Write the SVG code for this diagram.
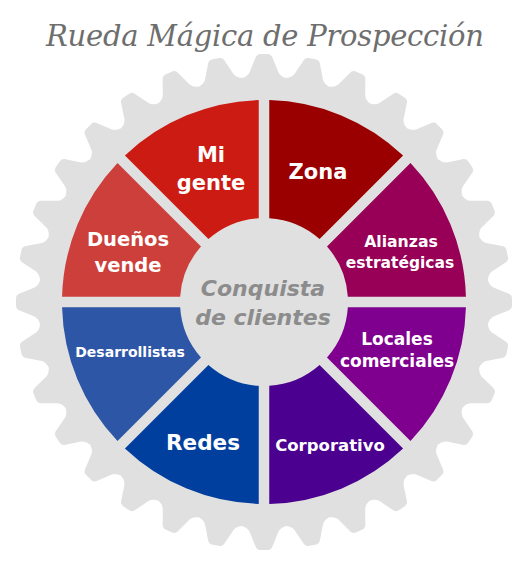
<svg xmlns="http://www.w3.org/2000/svg" xmlns:xlink="http://www.w3.org/1999/xlink" width="532" height="575" viewBox="0 0 532 575">
<style>
.gear{fill:#e0e0e0}
.lbl{font-family:"DejaVu Sans","Liberation Sans",sans-serif;font-weight:bold;fill:#ffffff;text-anchor:middle}
.hubt{font-family:"DejaVu Sans","Liberation Sans",sans-serif;font-weight:bold;font-style:italic;fill:#8c8c8c;text-anchor:middle;font-size:22px}
.title{font-family:"DejaVu Serif","Liberation Serif",serif;font-style:italic;fill:#6e6e6e;font-size:29px;text-anchor:middle}
</style>
<defs>
<path id="tooth" d="M -22.1,-219 L -22.05,-223.9 Q -16.5,-225.5 -14.5,-229.5 L -8,-245.5 Q -6.5,-248 -4,-248 L 4,-248 Q 6.5,-248 8,-245.5 L 14.5,-229.5 Q 16.5,-225.5 22.05,-223.9 L 22.1,-219 Z"/>
<path id="seg" d="M 5.25,-201.93 A 202 202 0 0 1 139.08,-146.50 L 55.57,-62.99 A 84 84 0 0 0 5.25,-83.84 Z"/>
</defs>
<rect width="532" height="575" fill="#ffffff"/>
<text class="title" x="265" y="46" textLength="438" lengthAdjust="spacing">Rueda Mágica de Prospección</text>
<g id="gear" class="gear" transform="translate(264,302)">
<circle r="224"/>
<use xlink:href="#tooth" transform="rotate(0)"/>
<use xlink:href="#tooth" transform="rotate(11.25)"/>
<use xlink:href="#tooth" transform="rotate(22.5)"/>
<use xlink:href="#tooth" transform="rotate(33.75)"/>
<use xlink:href="#tooth" transform="rotate(45)"/>
<use xlink:href="#tooth" transform="rotate(56.25)"/>
<use xlink:href="#tooth" transform="rotate(67.5)"/>
<use xlink:href="#tooth" transform="rotate(78.75)"/>
<use xlink:href="#tooth" transform="rotate(90)"/>
<use xlink:href="#tooth" transform="rotate(101.25)"/>
<use xlink:href="#tooth" transform="rotate(112.5)"/>
<use xlink:href="#tooth" transform="rotate(123.75)"/>
<use xlink:href="#tooth" transform="rotate(135)"/>
<use xlink:href="#tooth" transform="rotate(146.25)"/>
<use xlink:href="#tooth" transform="rotate(157.5)"/>
<use xlink:href="#tooth" transform="rotate(168.75)"/>
<use xlink:href="#tooth" transform="rotate(180)"/>
<use xlink:href="#tooth" transform="rotate(191.25)"/>
<use xlink:href="#tooth" transform="rotate(202.5)"/>
<use xlink:href="#tooth" transform="rotate(213.75)"/>
<use xlink:href="#tooth" transform="rotate(225)"/>
<use xlink:href="#tooth" transform="rotate(236.25)"/>
<use xlink:href="#tooth" transform="rotate(247.5)"/>
<use xlink:href="#tooth" transform="rotate(258.75)"/>
<use xlink:href="#tooth" transform="rotate(270)"/>
<use xlink:href="#tooth" transform="rotate(281.25)"/>
<use xlink:href="#tooth" transform="rotate(292.5)"/>
<use xlink:href="#tooth" transform="rotate(303.75)"/>
<use xlink:href="#tooth" transform="rotate(315)"/>
<use xlink:href="#tooth" transform="rotate(326.25)"/>
<use xlink:href="#tooth" transform="rotate(337.5)"/>
<use xlink:href="#tooth" transform="rotate(348.75)"/>
</g>
<g id="connectors"></g>
<g id="hub">
<circle class="gear" cx="264" cy="302" r="84"/>
<text class="hubt" x="263" y="296">Conquista</text>
<text class="hubt" x="263" y="325">de clientes</text>
</g>
<g id="zona">
<use xlink:href="#seg" fill="#9a0000" transform="translate(264,302) rotate(0)"/>
<text class="lbl" x="318" y="179" font-size="21">Zona</text>
</g>
<g id="alianzas">
<use xlink:href="#seg" fill="#970056" transform="translate(264,302) rotate(45)"/>
<text class="lbl" x="401" y="247" font-size="15.7">Alianzas</text>
<text class="lbl" x="400" y="268" font-size="15.5">estratégicas</text>
</g>
<g id="locales">
<use xlink:href="#seg" fill="#7f008f" transform="translate(264,302) rotate(90)"/>
<text class="lbl" x="397" y="345" font-size="17">Locales</text>
<text class="lbl" x="397" y="367" font-size="17">comerciales</text>
</g>
<g id="corporativo">
<use xlink:href="#seg" fill="#4b008f" transform="translate(264,302) rotate(135)"/>
<text class="lbl" x="330" y="451" font-size="16.5">Corporativo</text>
</g>
<g id="redes">
<use xlink:href="#seg" fill="#013f9f" transform="translate(264,302) rotate(180)"/>
<text class="lbl" x="203" y="450" font-size="21.5">Redes</text>
</g>
<g id="desarrollistas">
<use xlink:href="#seg" fill="#2e56a7" transform="translate(264,302) rotate(225)"/>
<text class="lbl" x="130" y="357" font-size="14">Desarrollistas</text>
</g>
<g id="duenos">
<use xlink:href="#seg" fill="#cd3f3a" transform="translate(264,302) rotate(270)"/>
<text class="lbl" x="128" y="246" font-size="19.5">Dueños</text>
<text class="lbl" x="128" y="272" font-size="19.5">vende</text>
</g>
<g id="mi-gente">
<use xlink:href="#seg" fill="#cc1b13" transform="translate(264,302) rotate(315)"/>
<text class="lbl" x="211" y="162" font-size="21">Mi</text>
<text class="lbl" x="211" y="190" font-size="21">gente</text>
</g>
</svg>
